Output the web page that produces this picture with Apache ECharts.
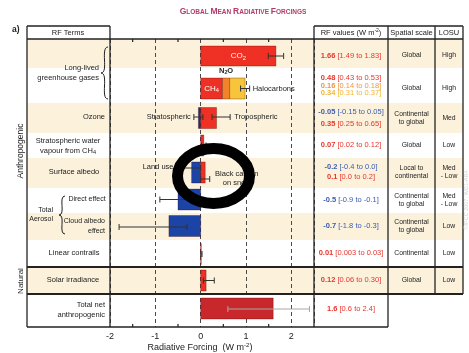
<!DOCTYPE html>
<html>
<head>
<meta charset="utf-8">
<script src="https://cdn.jsdelivr.net/npm/echarts@6/dist/echarts.min.js"></script>
<style>
html,body{margin:0;padding:0;background:#fff}
#chart{width:469px;height:353px}
</style>
</head>
<body>
<div id="chart"></div>
<script>
// ---- Radiative forcing terms, W m-2: best estimate and uncertainty range ----
const terms = ['CO2', 'CH4', 'N2O', 'Halocarbons', 'Stratospheric ozone', 'Tropospheric ozone',
  'Stratospheric water vapour from CH4', 'Land use', 'Black carbon on snow', 'Direct effect',
  'Cloud albedo effect', 'Linear contrails', 'Solar irradiance', 'Total net anthropogenic'];
const rfValue = [1.66, 0.48, 0.16, 0.34, -0.05, 0.35, 0.07, -0.2, 0.1, -0.5, -0.7, 0.01, 0.12, 1.6];
const rfLow   = [1.49, 0.43, 0.14, 0.31, -0.15, 0.25, 0.02, -0.4, 0.0, -0.9, -1.8, 0.003, 0.06, 0.6];
const rfHigh  = [1.83, 0.53, 0.18, 0.37, 0.05, 0.65, 0.12, 0.0, 0.2, -0.1, -0.3, 0.03, 0.30, 2.4];
const rangeDecimals = [2, 2, 2, 2, 2, 2, 2, 1, 1, 1, 1, null, 2, 1];
// CH4, N2O and halocarbons are drawn as one stacked bar
const stackedTerms = [1, 2, 3];

// ---- Table columns ----
const rowSpatial = ['Global', 'Global', 'Continental\nto global', 'Global', 'Local to\ncontinental',
  'Continental\nto global', 'Continental\nto global', 'Continental', 'Global'];
const rowLosu = ['High', 'High', 'Med', 'Low', 'Med\n- Low', 'Med\n- Low', 'Low', 'Low', 'Low'];

// ---- Axis ----
const xMin = -2, xMax = 2.5, xInterval = 1;
const minorTickValues = [-1.5, -0.5, 0.5, 1.5];

// ---- Layout (pixels) ----
const FONT = 'Liberation Sans, Arial, Helvetica, sans-serif';
const PLOT = { left: 110, right: 314, top: 39, bottom: 327 };
const rowEdges = [39, 68, 103, 133, 158, 188, 213, 240, 267, 294, 327];
const creamRows = [0, 2, 4, 6, 8];
// bar centres / error-bar lines, measured down from the top of the plot
const barY =  [17, 49.5, 49.5, 49.5, 79, 79, 106.5, 133.5, 133.5, 160.5, 187, 215, 241.5, 269.5];
const errY =  [17, null, null, 49.5, 78, 78, 106.5, 129, 140, 160.5, 188, 215, 241.5, 270];
const barH = 21;
const rfTextY = [56, 78, 86, 93, 112, 124, 145, 167, 177, 200, 226, 253, 280, 309];
const rowTextY = [55, 88, 118, 145, 172, 200, 226, 253, 280, 309];

// ---- Colours ----
const RED = '#ee3124', BLUE = '#1c43a6';
const barColor = [RED, RED, '#f3832a', '#f7c53b', '#1b2f7e', RED, RED, BLUE, RED, BLUE, BLUE, RED, RED, '#c8282b'];
const textColor = ['#e8352c', '#e8352c', '#f29443', '#f2b731', '#3b5bb0', '#e8352c', '#e8352c',
  '#3b5bb0', '#e8352c', '#3b5bb0', '#3b5bb0', '#e8352c', '#e8352c', '#e8352c'];
const CREAM = '#fcf2dc', INK = '#222';

// ---- Derived marks ----
const barBase = rfValue.map(() => 0);
stackedTerms.forEach((t, k) => {
  barBase[t] = k === 0 ? 0 : barBase[stackedTerms[k - 1]] + rfValue[stackedTerms[k - 1]];
});
const barData = terms.map((t, i) => ({
  name: t,
  value: [barBase[i], barBase[i] + rfValue[i], barY[i], i === 0 ? 20 : barH],
  itemStyle: { color: barColor[i] }
}));
// error bars; the stacked greenhouse-gas bar carries the combined range at its end
const stackLow = stackedTerms.reduce((s, t) => s + rfLow[t], 0);
const stackHigh = stackedTerms.reduce((s, t) => s + rfHigh[t], 0);
const errData = [];
terms.forEach((t, i) => {
  if (errY[i] === null) return;
  let lo = rfLow[i], hi = rfHigh[i];
  if (i === stackedTerms[stackedTerms.length - 1]) { lo = stackLow; hi = stackHigh; }
  errData.push({ name: t, value: [lo, hi, errY[i]], itemStyle: { color: i === 13 ? '#a8a8a8' : '#333' } });
});

// in-plot annotations anchored on the data
const ann = [
  { text: '{n|CO}{s|2}', x: rfValue[0] / 2, y: barY[0], align: 'center', dx: 0, white: true },
  { text: '{n|CH}{s|4}', x: rfValue[1] / 2, y: barY[1], align: 'center', dx: 0, white: true },
  { text: '{n|N}{s|2}{n|O}', x: barBase[2] + rfValue[2] / 2, y: 32, align: 'center', dx: 0, bold: true },
  { text: '{n|Halocarbons}', x: stackHigh, y: errY[3], align: 'left', dx: 3 },
  { text: '{n|Stratospheric}', x: rfLow[4], y: errY[4], align: 'right', dx: -3 },
  { text: '{n|Tropospheric}', x: rfHigh[5], y: errY[5], align: 'left', dx: 4 },
  { text: '{n|Land use}', x: rfLow[7], y: errY[7] - 1, align: 'right', dx: -9 },
  { text: '{n|Black carbon}\n{n|on snow}', x: rfHigh[8], y: 139, align: 'center', dx: 27 }
];

function fmtRange(v, d) { return d === null ? String(v) : v.toFixed(d); }

// ---- Static frame: bands, table rules and text ----
const g = [];
creamRows.forEach(r => g.push({
  type: 'rect', z: -10, silent: true,
  shape: { x: 27, y: rowEdges[r], width: 463 - 27, height: rowEdges[r + 1] - rowEdges[r] },
  style: { fill: CREAM }
}));
function hline(y, x1, x2, w) {
  g.push({ type: 'line', z: 50, silent: true, shape: { x1, y1: y, x2, y2: y }, style: { stroke: INK, lineWidth: w || 1.3 } });
}
function vline(x, y1, y2, w) {
  g.push({ type: 'line', z: 50, silent: true, shape: { x1: x, y1, x2: x, y2 }, style: { stroke: INK, lineWidth: w || 1.3 } });
}
hline(26, 27, 110); hline(26, 314, 463);
hline(39, 27, 463);
hline(267, 27, 463, 1.8); hline(294, 27, 463, 1.8);
hline(327, 27, 388);
vline(27, 26, 327); vline(110, 26, 327); vline(314, 26, 327); vline(388, 26, 327);
vline(435, 26, 294); vline(463, 26, 294);

function text(x, y, str, size, o) {
  o = o || {};
  g.push({
    type: 'text', z: 60, silent: true, x, y, rotation: o.rotation || 0,
    style: {
      text: str, fill: o.fill || INK, textAlign: o.align || 'center', textVerticalAlign: 'middle',
      font: (o.bold ? 'bold ' : '') + size + 'px ' + FONT, lineHeight: o.lh || Math.round(size * 1.25),
      rich: o.rich
    }
  });
}
// title in small capitals
const capRich = {
  c: { fontSize: 8.5, fontWeight: 'bold', fontFamily: FONT, fill: '#b23b6c', verticalAlign: 'bottom' },
  s: { fontSize: 6.5, fontWeight: 'bold', fontFamily: FONT, fill: '#b23b6c', verticalAlign: 'bottom' }
};
const title = 'Global Mean Radiative Forcings';
const titleRich = title.split(' ').map(w => '{c|' + w[0].toUpperCase() + '}{s|' + w.slice(1).toUpperCase() + '}').join('{s| }');
text(243, 11, titleRich, 8, { rich: capRich });
text(12, 30, 'a)', 8.5, { bold: true, align: 'left' });

// headers
text(68, 32.5, 'RF Terms', 7.5);
text(351, 33, '{n|RF values (W m}{p|-2}{n|)}', 7.5, {
  rich: { n: { fontSize: 7.5, fontFamily: FONT, fill: INK }, p: { fontSize: 5, fontFamily: FONT, fill: INK, padding: [0, 0, 4, 0] } }
});
text(411.5, 33, 'Spatial scale', 7.5);
text(449, 33, 'LOSU', 7.5);

// left column
const lRich = { n: { fontSize: 7.5, fontFamily: FONT, fill: INK, lineHeight: 10 }, s: { fontSize: 5.5, fontFamily: FONT, fill: INK, padding: [4, 0, 0, 0] } };
text(99, 73, 'Long-lived\ngreenhouse gases', 7.5, { align: 'right', lh: 10 });
text(105, rowTextY[2] - 1, 'Ozone', 7.5, { align: 'right' });
text(68, 145.5, '{n|Stratospheric water}\n{n|vapour from CH}{s|4}', 7.5, { rich: lRich, lh: 10 });
text(74, 172, 'Surface albedo', 7.5);
text(87, 199, 'Direct effect', 7);
text(105, 226, 'Cloud albedo\neffect', 7, { align: 'right', lh: 10 });
text(53, 214.5, 'Total\nAerosol', 7, { align: 'right', lh: 9 });
text(74, 253, 'Linear contrails', 7.5);
text(73, 280, 'Solar irradiance', 7.5);
text(105, 310, 'Total net\nanthropogenic', 7.5, { align: 'right', lh: 10 });
text(21, 151, 'Anthropogenic', 8.5, { rotation: Math.PI / 2 });
text(21, 281, 'Natural', 8, { rotation: Math.PI / 2 });

// braces
function brace(xr, xl, yt, yb) {
  const ym = (yt + yb) / 2;
  const st = { stroke: INK, lineWidth: 1, fill: null };
  g.push({ type: 'bezierCurve', z: 55, silent: true, shape: { x1: xr, y1: yt, cpx1: xl - 1, cpy1: yt, cpx2: xr + 1, cpy2: ym, x2: xl, y2: ym }, style: st });
  g.push({ type: 'bezierCurve', z: 55, silent: true, shape: { x1: xl, y1: ym, cpx1: xr + 1, cpy1: ym, cpx2: xl - 1, cpy2: yb, x2: xr, y2: yb }, style: st });
}
brace(108, 101, 47, 99);
brace(65, 59, 196, 234);

// RF value column, built from the same numbers as the bars
terms.forEach((t, i) => {
  const c = textColor[i];
  const s = '{b|' + String(rfValue[i]) + '}{n| [' + fmtRange(rfLow[i], rangeDecimals[i]) + ' to ' + fmtRange(rfHigh[i], rangeDecimals[i]) + ']}';
  text(351, rfTextY[i], s, 7.5, {
    rich: { b: { fontSize: 7.5, fontWeight: 'bold', fontFamily: FONT, fill: c }, n: { fontSize: 7.5, fontFamily: FONT, fill: c } }
  });
});
rowSpatial.forEach((s, r) => text(411.5, rowTextY[r], s, 6.8, { lh: 8.5 }));
rowLosu.forEach((s, r) => text(449, rowTextY[r], s, 6.8, { lh: 8.5 }));

// x axis title
text(200, 348, '{n|Radiative Forcing  (W m}{p|-2}{n|)}', 9, {
  rich: { n: { fontSize: 9, fontFamily: FONT, fill: INK }, p: { fontSize: 6, fontFamily: FONT, fill: INK, padding: [0, 0, 5, 0] } }
});
// copyright strip
text(466, 200, '©IPCC 2007: WG1-AR4', 5.5, { rotation: Math.PI / 2, fill: '#d4d4d4' });

// highlight ring
g.push({
  type: 'ellipse', z: 200, silent: true,
  shape: { cx: 213.5, cy: 176, rx: 36, ry: 27.5 },
  style: { fill: null, stroke: '#000', lineWidth: 11 }
});

const chart = echarts.init(document.getElementById('chart'), null, { renderer: 'canvas' });
chart.setOption({
  animation: false,
  backgroundColor: '#fff',
  grid: { left: PLOT.left, right: 469 - PLOT.right, top: PLOT.top, bottom: 353 - PLOT.bottom },
  xAxis: {
    type: 'value', min: xMin, max: xMax, interval: xInterval,
    axisLine: { show: false }, axisTick: { show: false },
    axisLabel: { showMaxLabel: false, fontSize: 9, color: INK, fontFamily: FONT, margin: 5,
      formatter: v => (v === xMax ? '' : String(v)) },
    splitLine: { show: true, lineStyle: { color: '#4a4a4a', width: 1, type: [4, 3] } }
  },
  yAxis: { type: 'value', min: 0, max: PLOT.bottom - PLOT.top, inverse: true, show: false },
  graphic: { elements: g },
  series: [
    {
      type: 'custom', name: 'bars', z: 5, data: barData, encode: { x: [0, 1], y: 2 },
      renderItem(params, api) {
        const a = api.coord([api.value(0), api.value(2)]);
        const b = api.coord([api.value(1), api.value(2)]);
        const h = api.size([0, api.value(3)])[1];
        return {
          type: 'rect',
          shape: { x: Math.min(a[0], b[0]), y: a[1] - h / 2, width: Math.max(Math.abs(b[0] - a[0]), 0.6), height: h },
          style: { fill: api.visual('color'), stroke: 'rgba(60,0,0,0.45)', lineWidth: 0.7 }
        };
      }
    },
    {
      type: 'custom', name: 'uncertainty', z: 6, data: errData, encode: { x: [0, 1], y: 2 },
      renderItem(params, api) {
        const lo = api.coord([api.value(0), api.value(2)]);
        const hi = api.coord([api.value(1), api.value(2)]);
        const st = { stroke: api.visual('color'), lineWidth: 1 };
        const c = 3;
        return {
          type: 'group', children: [
            { type: 'line', shape: { x1: lo[0], y1: lo[1], x2: hi[0], y2: hi[1] }, style: st },
            { type: 'line', shape: { x1: lo[0], y1: lo[1] - c, x2: lo[0], y2: lo[1] + c }, style: st },
            { type: 'line', shape: { x1: hi[0], y1: hi[1] - c, x2: hi[0], y2: hi[1] + c }, style: st }
          ]
        };
      }
    },
    {
      type: 'custom', name: 'ticks', z: 6, data: minorTickValues.map(v => [v]),
      renderItem(params, api) {
        const t = api.coord([api.value(0), 0]);
        const b = api.coord([api.value(0), PLOT.bottom - PLOT.top]);
        const st = { stroke: INK, lineWidth: 1.2 };
        return {
          type: 'group', children: [
            { type: 'line', shape: { x1: t[0], y1: t[1], x2: t[0], y2: t[1] + 3 }, style: st },
            { type: 'line', shape: { x1: b[0], y1: b[1], x2: b[0], y2: b[1] - 3 }, style: st }
          ]
        };
      }
    },
    {
      type: 'custom', name: 'labels', z: 7, data: ann.map(a => ({ value: [a.x, a.y], name: a.text })),
      renderItem(params, api) {
        const a = ann[params.dataIndex];
        const p = api.coord([api.value(0), api.value(1)]);
        const fill = a.white ? '#fff' : INK;
        const fs = a.white ? 8 : 7.5;
        return {
          type: 'text', x: p[0] + a.dx, y: p[1],
          style: {
            text: a.text, textAlign: a.align, textVerticalAlign: 'middle', lineHeight: 9,
            rich: {
              n: { fontSize: fs, fontFamily: FONT, fill, fontWeight: a.bold ? 'bold' : 'normal', lineHeight: 9 },
              s: { fontSize: fs * 0.7, fontFamily: FONT, fill, fontWeight: a.bold ? 'bold' : 'normal', padding: [4, 0, 0, 0] }
            }
          }
        };
      }
    }
  ]
});
</script>
</body>
</html>
